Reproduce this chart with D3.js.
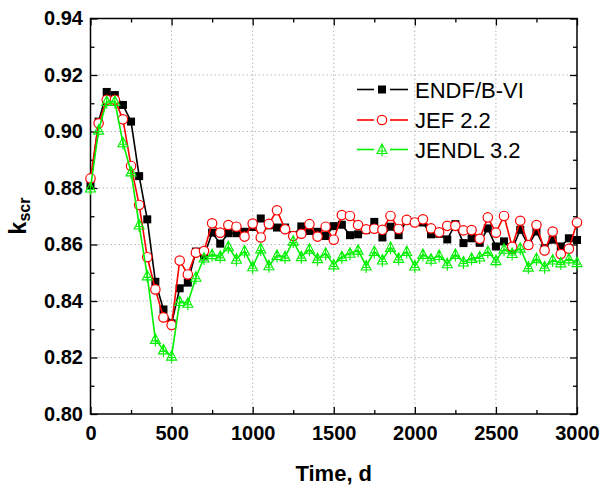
<!DOCTYPE html>
<html><head><meta charset="utf-8">
<script src="https://cdn.jsdelivr.net/npm/d3@7"></script>
<style>
body{margin:0;background:#fff}
svg{display:block}
text{font-family:"Liberation Sans",Arial,Helvetica,sans-serif}
</style>
</head><body>
<svg id="c" width="603" height="486"></svg>
<script>
const times=[0,50,100,150,200,250,300,350,400,450,500,550,600,650,700,750,800,850,900,950,
1000,1050,1100,1150,1200,1250,1300,1350,1400,1450,1500,1550,1600,1650,1700,1750,1800,1850,1900,1950,
2000,2050,2100,2150,2200,2250,2300,2350,2400,2450,2500,2550,2600,2650,2700,2750,2800,2850,2900,2950,3000];
const endf=[0.881,0.9035,0.914,0.9129,0.9094,0.9035,0.8842,0.8689,0.8468,0.837,0.8321,0.8445,0.8465,0.8575,0.8558,0.8642,0.8603,0.864,0.864,0.8645,
0.8662,0.8692,0.8668,0.866,0.866,0.8633,0.8664,0.8648,0.8645,0.863,0.8665,0.867,0.8633,0.8636,0.8651,0.868,0.8625,0.8663,0.8633,0.8686,
0.868,0.8678,0.8636,0.8638,0.8618,0.8672,0.8605,0.8622,0.8606,0.8657,0.8593,0.8611,0.8582,0.8652,0.8598,0.8646,0.8587,0.8617,0.8593,0.8622,0.8616];
const jef=[0.8834,0.9029,0.9112,0.9112,0.9043,0.8878,0.874,0.8555,0.8441,0.8342,0.8315,0.8543,0.8494,0.8571,0.8577,0.8675,0.8642,0.8669,0.8663,0.8628,
0.8674,0.8625,0.8673,0.8721,0.8654,0.863,0.8638,0.8672,0.8628,0.8663,0.8617,0.8704,0.8701,0.8669,0.8654,0.8656,0.8652,0.8701,0.8655,0.8687,
0.8678,0.8689,0.8657,0.8643,0.8666,0.8666,0.865,0.8651,0.862,0.8696,0.8642,0.8701,0.8592,0.8684,0.8598,0.8669,0.8579,0.8646,0.8566,0.8585,0.8678];
const jendl=[0.880,0.9005,0.9106,0.9106,0.896,0.8857,0.8669,0.8489,0.8264,0.8227,0.8205,0.8398,0.8392,0.8484,0.8552,0.8564,0.8558,0.8592,0.8548,0.8577,
0.8521,0.8584,0.8525,0.8561,0.8557,0.8612,0.8557,0.8583,0.855,0.8569,0.8528,0.8557,0.8569,0.858,0.8524,0.8575,0.8545,0.859,0.8551,0.8575,
0.8524,0.8565,0.8548,0.8561,0.8532,0.8565,0.8538,0.8551,0.8556,0.8575,0.8543,0.8583,0.8568,0.8587,0.852,0.855,0.8521,0.8545,0.8535,0.8549,0.8536];
const seriesNames=["ENDF/B-VI","JEF 2.2","JENDL 3.2"];
const xTickValues=[0,500,1000,1500,2000,2500,3000];
const xMinorValues=[250,750,1250,1750,2250,2750];
const yTickValues=[0.80,0.82,0.84,0.86,0.88,0.90,0.92,0.94];
const yMinorValues=[0.81,0.83,0.85,0.87,0.89,0.91,0.93];
const xTitle="Time, d";

const L=90.5,R=577,T=18.5,B=414;
const svg=d3.select("#c");
const x=d3.scaleLinear().domain([0,3000]).range([L,R]);
const y=d3.scaleLinear().domain([0.80,0.94]).range([B,T]);

// grid
const grid=svg.append("g").attr("stroke","#b8b8b8").attr("stroke-width",1).attr("stroke-dasharray","1.5,2.5");
xTickValues.filter(v=>v>0&&v<3000).forEach(v=>grid.append("line").attr("x1",x(v)).attr("x2",x(v)).attr("y1",T).attr("y2",B));
yTickValues.filter(v=>v>0.801&&v<0.939).forEach(v=>grid.append("line").attr("x1",L).attr("x2",R).attr("y1",y(v)).attr("y2",y(v)));

// axes
function styleAxis(g){g.select(".domain").remove();g.selectAll("line").attr("stroke","#000").attr("stroke-width",1.3);}
svg.append("g").attr("transform",`translate(0,${B})`)
  .call(d3.axisBottom(x).tickValues(xTickValues).tickSize(-7).tickPadding(12).tickFormat(d3.format("d")))
  .call(styleAxis)
  .call(g=>g.selectAll("text").attr("font-size",20).attr("font-weight","bold").attr("fill","#000"));
svg.append("g").attr("transform",`translate(0,${B})`).call(d3.axisBottom(x).tickValues(xMinorValues).tickSize(-4).tickFormat("")).call(styleAxis);
svg.append("g").attr("transform",`translate(0,${T})`).call(d3.axisTop(x).tickValues(xTickValues).tickSize(-7).tickFormat("")).call(styleAxis);
svg.append("g").attr("transform",`translate(0,${T})`).call(d3.axisTop(x).tickValues(xMinorValues).tickSize(-4).tickFormat("")).call(styleAxis);
svg.append("g").attr("transform",`translate(${L},0)`)
  .call(d3.axisLeft(y).tickValues(yTickValues).tickSize(-7).tickPadding(7.5).tickFormat(d3.format(".2f")))
  .call(styleAxis)
  .call(g=>g.selectAll("text").attr("font-size",20).attr("font-weight","bold").attr("fill","#000"));
svg.append("g").attr("transform",`translate(${L},0)`).call(d3.axisLeft(y).tickValues(yMinorValues).tickSize(-4).tickFormat("")).call(styleAxis);
svg.append("g").attr("transform",`translate(${R},0)`).call(d3.axisRight(y).tickValues(yTickValues).tickSize(-7).tickFormat("")).call(styleAxis);
svg.append("g").attr("transform",`translate(${R},0)`).call(d3.axisRight(y).tickValues(yMinorValues).tickSize(-4).tickFormat("")).call(styleAxis);

// frame
svg.append("rect").attr("x",L).attr("y",T).attr("width",R-L).attr("height",B-T)
  .attr("fill","none").attr("stroke","#000").attr("stroke-width",1.5);

// titles
svg.append("text").attr("x",(L+R)/2).attr("y",481).attr("text-anchor","middle")
  .attr("font-size",22).attr("font-weight","bold").text(xTitle);
const yt=svg.append("text").attr("transform","translate(26,216) rotate(-90)").attr("text-anchor","middle")
  .attr("font-weight","bold").attr("font-size",23);
yt.append("tspan").text("k");
yt.append("tspan").attr("font-size",16).attr("dy",4).text("scr");

// markers
function square(g,cx,cy){g.append("rect").attr("x",cx-4).attr("y",cy-4).attr("width",8).attr("height",8).attr("fill","#000");}
function circle(g,cx,cy){g.append("circle").attr("cx",cx).attr("cy",cy).attr("r",4.7).attr("fill","#fff").attr("stroke","#ff0000").attr("stroke-width",1.2);}
function tri(g,cx,cy){
  g.append("path").attr("d",`M${cx},${cy-5.5}L${cx+5},${cy+4}L${cx-5},${cy+4}Z M${cx},${cy-5.5}L${cx},${cy+7} M${cx-3},${cy+1.5}L${cx+3},${cy+1.5}`)
   .attr("fill","none").attr("stroke","#00f000").attr("stroke-width",1.1);
}
const series=[
  {vals:endf,color:"#000",mk:square},
  {vals:jef,color:"#ff0000",mk:circle},
  {vals:jendl,color:"#00f000",mk:tri}
];
const line=d3.line().x(d=>x(d[0])).y(d=>y(d[1]));
series.forEach(s=>{
  const pts=times.map((t,i)=>[t,s.vals[i]]);
  svg.append("path").datum(pts).attr("d",line).attr("fill","none").attr("stroke",s.color).attr("stroke-width",1.6);
  const g=svg.append("g");
  pts.forEach(p=>s.mk(g,x(p[0]),y(p[1])));
});

// legend
const ly=[89.5,120,149.5];
series.forEach((s,i)=>{
  const g=svg.append("g");
  g.append("line").attr("x1",357).attr("x2",374).attr("y1",ly[i]).attr("y2",ly[i]).attr("stroke",s.color).attr("stroke-width",1.6);
  g.append("line").attr("x1",390).attr("x2",408).attr("y1",ly[i]).attr("y2",ly[i]).attr("stroke",s.color).attr("stroke-width",1.6);
  s.mk(g,382,ly[i]);
  g.append("text").attr("x",415).attr("y",ly[i]+8).attr("font-size",22).attr("fill","#000").text(seriesNames[i]);
});
</script>
</body></html>
